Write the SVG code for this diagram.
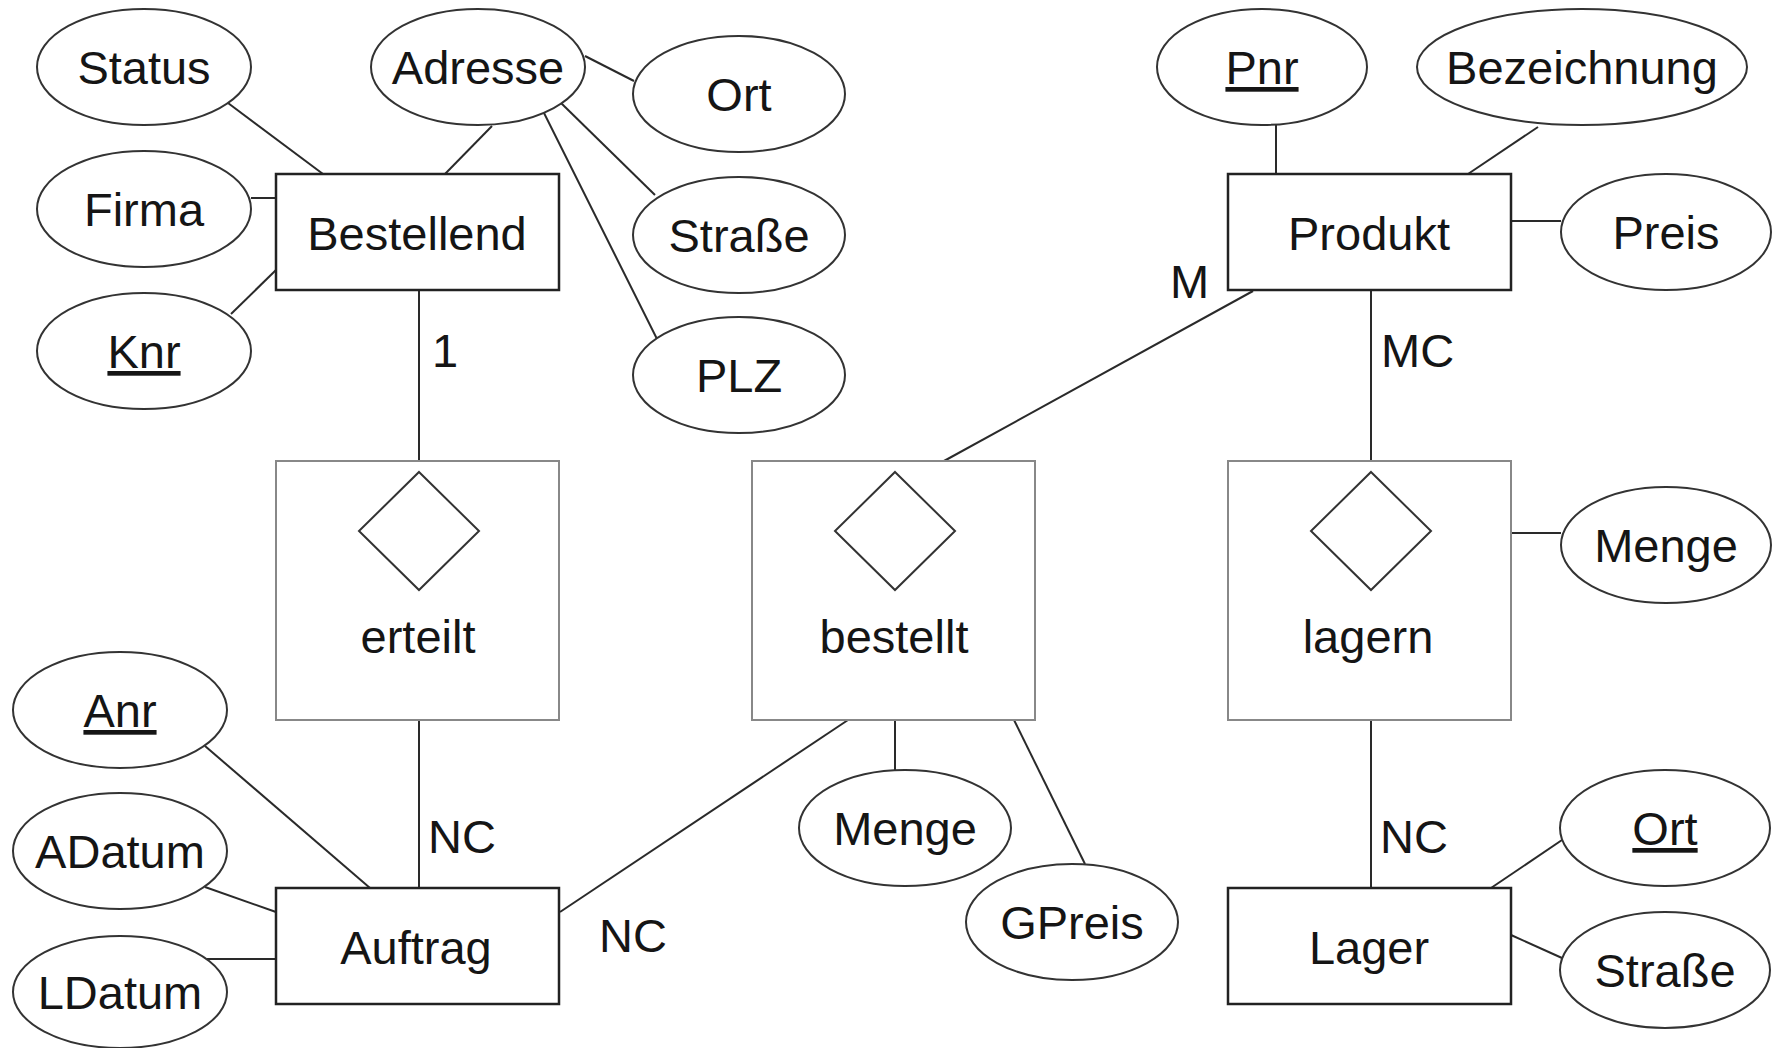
<svg xmlns="http://www.w3.org/2000/svg" width="1781" height="1048" viewBox="0 0 1781 1048">
<style>
text{font-family:"Liberation Sans",Arial,sans-serif;font-size:47px;fill:#151515;text-anchor:middle}
.ent{fill:#fff;stroke:#222;stroke-width:2.5}
.rel{fill:#fff;stroke:#888;stroke-width:2}
.dia{fill:#fff;stroke:#333;stroke-width:2}
.att{fill:#fff;stroke:#333;stroke-width:2}
.key{text-decoration:underline}
#connectors line{stroke:#2a2a2a;stroke-width:2}
.card{text-anchor:start}
</style>
<rect width="1781" height="1048" fill="#fff"/>
<g id="connectors">
<line x1="228" y1="103" x2="323" y2="174"/>
<line x1="492" y1="126" x2="445" y2="174"/>
<line x1="251" y1="198" x2="276" y2="198"/>
<line x1="231" y1="314" x2="276" y2="270"/>
<line x1="585" y1="56" x2="634" y2="81"/>
<line x1="561" y1="103" x2="655" y2="195"/>
<line x1="540" y1="105" x2="657" y2="339"/>
<line x1="419" y1="290" x2="419" y2="461"/>
<line x1="1276" y1="125" x2="1276" y2="174"/>
<line x1="1538" y1="127" x2="1468" y2="174"/>
<line x1="1511" y1="221" x2="1561" y2="221"/>
<line x1="1253" y1="291" x2="944" y2="461"/>
<line x1="1371" y1="290" x2="1371" y2="461"/>
<line x1="419" y1="720" x2="419" y2="888"/>
<line x1="205" y1="746" x2="370" y2="888"/>
<line x1="205" y1="887" x2="276" y2="912"/>
<line x1="207" y1="959" x2="276" y2="959"/>
<line x1="560" y1="912" x2="848" y2="720"/>
<line x1="895" y1="720" x2="895" y2="770"/>
<line x1="1014" y1="720" x2="1085" y2="864"/>
<line x1="1511" y1="533" x2="1561" y2="533"/>
<line x1="1371" y1="720" x2="1371" y2="888"/>
<line x1="1562" y1="840" x2="1491" y2="888"/>
<line x1="1511" y1="935" x2="1562" y2="958"/>
<text class="card" x="432" y="367">1</text>
<text class="card" x="1170" y="298">M</text>
<text class="card" x="1381" y="367">MC</text>
<text class="card" x="428" y="853">NC</text>
<text class="card" x="599" y="952">NC</text>
<text class="card" x="1380" y="853">NC</text>
</g>
<g id="Bestellend"><rect class="ent" x="276" y="174" width="283" height="116"/><text x="417" y="250">Bestellend</text></g>
<g id="Produkt"><rect class="ent" x="1228" y="174" width="283" height="116"/><text x="1369" y="250">Produkt</text></g>
<g id="Auftrag"><rect class="ent" x="276" y="888" width="283" height="116"/><text x="416" y="964">Auftrag</text></g>
<g id="Lager"><rect class="ent" x="1228" y="888" width="283" height="116"/><text x="1369" y="964">Lager</text></g>
<g id="erteilt"><rect class="rel" x="276" y="461" width="283" height="259"/><polygon class="dia" points="419,472 479,531 419,590 359,531"/><text x="418" y="653">erteilt</text></g>
<g id="bestellt"><rect class="rel" x="752" y="461" width="283" height="259"/><polygon class="dia" points="895,472 955,531 895,590 835,531"/><text x="894" y="653">bestellt</text></g>
<g id="lagern"><rect class="rel" x="1228" y="461" width="283" height="259"/><polygon class="dia" points="1371,472 1431,531 1371,590 1311,531"/><text x="1368" y="653">lagern</text></g>
<g id="Status"><ellipse class="att" cx="144" cy="67" rx="107" ry="58"/><text x="144" y="84">Status</text></g>
<g id="Adresse"><ellipse class="att" cx="478" cy="67" rx="107" ry="58"/><text x="478" y="84">Adresse</text></g>
<g id="Ort"><ellipse class="att" cx="739" cy="94" rx="106" ry="58"/><text x="739" y="111">Ort</text></g>
<g id="Firma"><ellipse class="att" cx="144" cy="209" rx="107" ry="58"/><text x="144" y="226">Firma</text></g>
<g id="Strasse"><ellipse class="att" cx="739" cy="235" rx="106" ry="58"/><text x="739" y="252">Straße</text></g>
<g id="Knr"><ellipse class="att" cx="144" cy="351" rx="107" ry="58"/><text class="key" x="144" y="368">Knr</text></g>
<g id="PLZ"><ellipse class="att" cx="739" cy="375" rx="106" ry="58"/><text x="739" y="392">PLZ</text></g>
<g id="Pnr"><ellipse class="att" cx="1262" cy="67" rx="105" ry="58"/><text class="key" x="1262" y="84">Pnr</text></g>
<g id="Bezeichnung"><ellipse class="att" cx="1582" cy="67" rx="165" ry="58"/><text x="1582" y="84">Bezeichnung</text></g>
<g id="Preis"><ellipse class="att" cx="1666" cy="232" rx="105" ry="58"/><text x="1666" y="249">Preis</text></g>
<g id="Menge_lagern"><ellipse class="att" cx="1666" cy="545" rx="105" ry="58"/><text x="1666" y="562">Menge</text></g>
<g id="Anr"><ellipse class="att" cx="120" cy="710" rx="107" ry="58"/><text class="key" x="120" y="727">Anr</text></g>
<g id="ADatum"><ellipse class="att" cx="120" cy="851" rx="107" ry="58"/><text x="120" y="868">ADatum</text></g>
<g id="LDatum"><ellipse class="att" cx="120" cy="992" rx="107" ry="56"/><text x="120" y="1009">LDatum</text></g>
<g id="Menge_bestellt"><ellipse class="att" cx="905" cy="828" rx="106" ry="58"/><text x="905" y="845">Menge</text></g>
<g id="GPreis"><ellipse class="att" cx="1072" cy="922" rx="106" ry="58"/><text x="1072" y="939">GPreis</text></g>
<g id="Ort_Lager"><ellipse class="att" cx="1665" cy="828" rx="105" ry="58"/><text class="key" x="1665" y="845">Ort</text></g>
<g id="Strasse_Lager"><ellipse class="att" cx="1665" cy="970" rx="105" ry="58"/><text x="1665" y="987">Straße</text></g>
</svg>
